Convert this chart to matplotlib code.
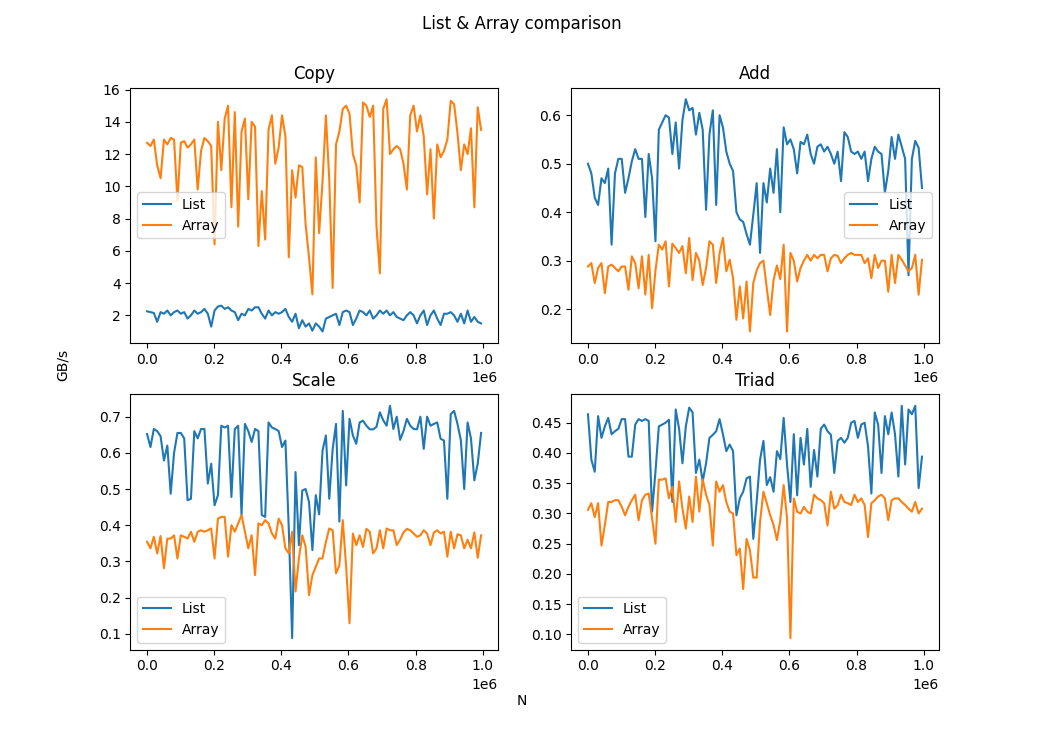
import numpy as np
import matplotlib
matplotlib.use("Agg")
import matplotlib.pyplot as plt

# problem size N (100 samples, 0 .. ~1e6)
N = np.linspace(0, 995000, 100)

copy_list = [2.25, 2.2, 2.15, 1.6, 2.2, 2.1, 2.3, 2.0, 2.2, 2.3,
             2.1, 2.2, 1.8, 2.0, 2.3, 2.1, 2.2, 2.4, 2.1, 1.3,
             2.3, 2.55, 2.6, 2.4, 2.5, 2.3, 2.2, 1.7, 2.1, 2.0,
             2.4, 2.3, 2.5, 2.5, 2.1, 1.8, 2.3, 2.0, 2.2, 2.1,
             2.2, 2.4, 1.9, 1.6, 2.1, 1.2, 1.7, 1.3, 1.5, 1.05,
             1.5, 1.3, 1.0, 1.8, 1.9, 2.0, 2.1, 1.4, 2.2, 2.3,
             2.2, 1.4, 1.8, 2.3, 2.2, 2.0, 2.3, 1.8, 2.0, 2.3,
             2.1, 2.3, 2.0, 2.2, 1.9, 1.8, 1.7, 2.0, 2.2, 2.0,
             1.5, 2.0, 2.3, 1.4, 2.0, 2.3, 1.8, 1.4, 2.1, 2.1,
             2.2, 2.0, 1.6, 2.1, 1.5, 2.3, 1.6, 1.9, 1.6, 1.5]
copy_array = [12.7, 12.5, 12.9, 11.3, 10.5, 12.9, 12.6, 13.0, 12.9, 9.1,
              12.7, 12.8, 12.4, 12.6, 12.9, 9.8, 12.2, 13.0, 12.8, 12.5,
              6.4, 14.0, 11.0, 14.2, 15.0, 8.7, 14.6, 7.5, 13.4, 14.2,
              9.2, 14.0, 13.7, 6.3, 9.7, 6.7, 13.5, 14.4, 11.4, 12.4,
              14.4, 13.1, 5.6, 11.0, 9.3, 11.3, 11.2, 7.6, 5.6, 3.3,
              11.8, 7.1, 10.3, 14.4, 10.4, 3.7, 12.6, 13.4, 14.8, 15.0,
              14.5, 12.0, 11.3, 9.0, 15.2, 15.0, 14.3, 15.0, 7.5, 4.6,
              14.8, 15.4, 12.0, 12.3, 12.5, 12.3, 11.4, 9.8, 14.4, 15.0,
              13.4, 14.4, 13.1, 9.5, 12.3, 8.0, 12.6, 11.8, 12.2, 12.9,
              15.3, 15.1, 13.3, 11.0, 12.6, 12.0, 13.6, 8.7, 14.9, 13.5]

add_list = [0.50, 0.48, 0.43, 0.415, 0.47, 0.46, 0.49, 0.333, 0.48, 0.51,
            0.51, 0.44, 0.47, 0.505, 0.53, 0.51, 0.51, 0.39, 0.52, 0.47,
            0.34, 0.57, 0.585, 0.60, 0.595, 0.52, 0.585, 0.49, 0.59, 0.633,
            0.61, 0.615, 0.56, 0.605, 0.57, 0.405, 0.56, 0.61, 0.415, 0.60,
            0.575, 0.525, 0.50, 0.485, 0.40, 0.385, 0.38, 0.355, 0.333, 0.395,
            0.46, 0.316, 0.46, 0.42, 0.49, 0.44, 0.53, 0.40, 0.575, 0.54,
            0.55, 0.53, 0.48, 0.545, 0.54, 0.56, 0.52, 0.50, 0.535, 0.54,
            0.525, 0.535, 0.52, 0.50, 0.525, 0.464, 0.565, 0.555, 0.525, 0.52,
            0.525, 0.51, 0.525, 0.464, 0.51, 0.535, 0.525, 0.52, 0.44, 0.485,
            0.555, 0.51, 0.56, 0.535, 0.51, 0.27, 0.51, 0.547, 0.533, 0.45]
add_array = [0.288, 0.295, 0.254, 0.285, 0.295, 0.233, 0.288, 0.292, 0.285, 0.278,
             0.288, 0.288, 0.24, 0.309, 0.295, 0.243, 0.309, 0.23, 0.312, 0.202,
             0.28, 0.333, 0.323, 0.34, 0.247, 0.335, 0.326, 0.316, 0.33, 0.274,
             0.347, 0.26, 0.316, 0.30, 0.25, 0.285, 0.34, 0.333, 0.254, 0.315,
             0.347, 0.278, 0.302, 0.264, 0.178, 0.247, 0.181, 0.257, 0.154, 0.254,
             0.28, 0.295, 0.30, 0.243, 0.188, 0.26, 0.29, 0.262, 0.333, 0.154,
             0.316, 0.30, 0.257, 0.285, 0.30, 0.312, 0.30, 0.312, 0.305, 0.312,
             0.312, 0.278, 0.305, 0.312, 0.31, 0.295, 0.305, 0.312, 0.316, 0.312,
             0.312, 0.312, 0.295, 0.305, 0.264, 0.312, 0.285, 0.30, 0.30, 0.236,
             0.312, 0.254, 0.312, 0.302, 0.29, 0.278, 0.285, 0.312, 0.23, 0.302]

scale_list = [0.652, 0.616, 0.666, 0.66, 0.646, 0.579, 0.62, 0.487, 0.60, 0.655,
              0.655, 0.64, 0.469, 0.473, 0.66, 0.64, 0.666, 0.666, 0.515, 0.57,
              0.455, 0.483, 0.675, 0.67, 0.675, 0.478, 0.666, 0.675, 0.428, 0.68,
              0.66, 0.63, 0.666, 0.66, 0.428, 0.423, 0.684, 0.67, 0.666, 0.66,
              0.616, 0.634, 0.391, 0.088, 0.547, 0.345, 0.496, 0.50, 0.464, 0.331,
              0.483, 0.43, 0.606, 0.648, 0.473, 0.61, 0.68, 0.41, 0.716, 0.51,
              0.694, 0.648, 0.625, 0.684, 0.689, 0.675, 0.665, 0.665, 0.672, 0.712,
              0.69, 0.675, 0.73, 0.666, 0.70, 0.636, 0.66, 0.694, 0.675, 0.666,
              0.665, 0.70, 0.611, 0.70, 0.675, 0.68, 0.684, 0.639, 0.634, 0.473,
              0.707, 0.716, 0.68, 0.635, 0.50, 0.684, 0.64, 0.524, 0.57, 0.655]
scale_array = [0.354, 0.336, 0.368, 0.322, 0.37, 0.281, 0.363, 0.363, 0.372, 0.308,
               0.372, 0.368, 0.363, 0.382, 0.354, 0.382, 0.386, 0.382, 0.386, 0.391,
               0.308, 0.418, 0.423, 0.423, 0.313, 0.40, 0.382, 0.405, 0.428, 0.382,
               0.336, 0.372, 0.262, 0.405, 0.40, 0.414, 0.405, 0.377, 0.363, 0.418,
               0.40, 0.336, 0.322, 0.382, 0.217, 0.308, 0.372, 0.34, 0.207, 0.262,
               0.285, 0.308, 0.308, 0.354, 0.391, 0.386, 0.267, 0.29, 0.414, 0.285,
               0.129, 0.377, 0.345, 0.372, 0.34, 0.39, 0.382, 0.322, 0.336, 0.386,
               0.336, 0.391, 0.386, 0.386, 0.345, 0.36, 0.38, 0.39, 0.386, 0.377,
               0.368, 0.372, 0.386, 0.377, 0.345, 0.38, 0.386, 0.377, 0.382, 0.313,
               0.382, 0.336, 0.375, 0.372, 0.336, 0.36, 0.336, 0.38, 0.31, 0.372]

triad_list = [0.464, 0.389, 0.369, 0.461, 0.425, 0.444, 0.458, 0.431, 0.436, 0.44,
              0.456, 0.456, 0.394, 0.394, 0.447, 0.456, 0.453, 0.456, 0.453, 0.303,
              0.369, 0.444, 0.447, 0.45, 0.455, 0.319, 0.472, 0.44, 0.383, 0.444,
              0.475, 0.467, 0.367, 0.389, 0.353, 0.383, 0.425, 0.43, 0.436, 0.456,
              0.431, 0.403, 0.414, 0.403, 0.297, 0.325, 0.336, 0.358, 0.361, 0.258,
              0.32, 0.389, 0.42, 0.347, 0.36, 0.336, 0.403, 0.39, 0.458, 0.381,
              0.319, 0.431, 0.33, 0.425, 0.381, 0.44, 0.344, 0.405, 0.361, 0.44,
              0.447, 0.436, 0.43, 0.367, 0.42, 0.425, 0.417, 0.425, 0.45, 0.453,
              0.425, 0.447, 0.45, 0.411, 0.333, 0.467, 0.447, 0.367, 0.461, 0.431,
              0.467, 0.431, 0.361, 0.478, 0.381, 0.472, 0.464, 0.478, 0.342, 0.394]
triad_array = [0.306, 0.317, 0.294, 0.317, 0.247, 0.281, 0.319, 0.319, 0.322, 0.322,
               0.311, 0.297, 0.311, 0.322, 0.331, 0.289, 0.322, 0.331, 0.333, 0.292,
               0.25, 0.356, 0.356, 0.358, 0.325, 0.344, 0.286, 0.353, 0.308, 0.275,
               0.328, 0.286, 0.361, 0.303, 0.356, 0.331, 0.314, 0.247, 0.353, 0.336,
               0.347, 0.319, 0.303, 0.30, 0.231, 0.242, 0.175, 0.258, 0.239, 0.194,
               0.194, 0.286, 0.336, 0.317, 0.297, 0.281, 0.256, 0.289, 0.347, 0.292,
               0.094, 0.325, 0.303, 0.30, 0.311, 0.303, 0.30, 0.331, 0.325, 0.322,
               0.317, 0.28, 0.336, 0.308, 0.314, 0.331, 0.319, 0.317, 0.314, 0.331,
               0.319, 0.325, 0.314, 0.261, 0.317, 0.322, 0.328, 0.331, 0.325, 0.289,
               0.322, 0.325, 0.325, 0.319, 0.314, 0.308, 0.303, 0.319, 0.300, 0.308]

titles = ["Copy", "Add", "Scale", "Triad"]
list_data = [copy_list, add_list, scale_list, triad_list]
array_data = [copy_array, add_array, scale_array, triad_array]
legend_locs = ["center left", "center right", "lower left", "lower left"]

fig, axs = plt.subplots(2, 2, figsize=(10.43, 7.3), dpi=100)
fig.suptitle("List & Array comparison")

for ax, title, l, a, loc in zip(axs.flat, titles, list_data, array_data, legend_locs):
    ax.plot(N, l, label="List")
    ax.plot(N, a, label="Array")
    ax.set_title(title)
    ax.legend(loc=loc)

fig.text(0.5, 0.034, "N", ha="center")
fig.text(0.06, 0.5, "GB/s", va="center", ha="center", rotation="vertical")

plt.savefig("out.png")
